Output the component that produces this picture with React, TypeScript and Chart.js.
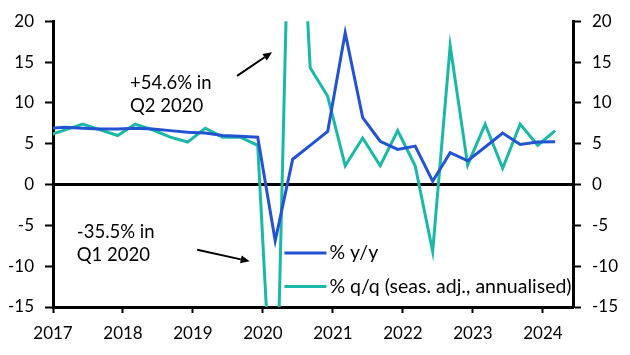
import React, { useEffect, useRef } from "react";
import { Chart, registerables } from "chart.js";

Chart.register(...registerables);

// ---- data ----
const quarters = [
  "2016Q4",
  "2017Q1", "2017Q2", "2017Q3", "2017Q4",
  "2018Q1", "2018Q2", "2018Q3", "2018Q4",
  "2019Q1", "2019Q2", "2019Q3", "2019Q4",
  "2020Q1", "2020Q2", "2020Q3", "2020Q4",
  "2021Q1", "2021Q2", "2021Q3", "2021Q4",
  "2022Q1", "2022Q2", "2022Q3", "2022Q4",
  "2023Q1", "2023Q2", "2023Q3", "2023Q4",
  "2024Q1",
];
const yoy = [
  6.9,
  7.0, 6.9, 6.8, 6.8,
  6.9, 6.8, 6.6, 6.4,
  6.3, 6.0, 5.9, 5.8,
  -6.9, 3.1, 4.8, 6.5,
  18.6, 8.2, 5.3, 4.3,
  4.7, 0.4, 3.9, 2.9,
  4.6, 6.3, 4.9, 5.2,
  5.25,
];
const qoq = [
  6.0,
  6.7, 7.4, 6.7, 6.0,
  7.4, 6.7, 5.8, 5.2,
  6.9, 5.8, 5.8, 4.8,
  -35.5, 54.6, 14.3, 10.8,
  2.3, 5.7, 2.3, 6.6,
  2.3, -8.2, 17.0, 2.4,
  7.4, 2.0, 7.4, 4.8,
  6.6,
];
const yTicks = [-15, -10, -5, 0, 5, 10, 15, 20];
const xTickYears = [2017, 2018, 2019, 2020, 2021, 2022, 2023, 2024];
const seriesNames = ["% y/y", "% q/q (seas. adj., annualised)"];
const noteUp = ["+54.6% in", "Q2 2020"];
const noteDown = ["-35.5% in", "Q1 2020"];

// ---- styles ----
const BLUE = "#2453D2";
const TEAL = "#19B8A7";
const FONT = "Lato";

const quarterToX = (q: string) => {
  const year = parseInt(q.slice(0, 4), 10);
  const qn = parseInt(q.slice(5), 10);
  return year + (qn - 1) / 4 + 0.175;
};

const drawArrow = (ctx: CanvasRenderingContext2D, x1: number, y1: number, x2: number, y2: number) => {
  const ang = Math.atan2(y2 - y1, x2 - x1);
  const head = 9;
  const hw = 4;
  const bx = x2 - head * Math.cos(ang);
  const by = y2 - head * Math.sin(ang);
  ctx.beginPath();
  ctx.moveTo(x1, y1);
  ctx.lineTo(bx, by);
  ctx.lineWidth = 2;
  ctx.strokeStyle = "#000";
  ctx.stroke();
  ctx.beginPath();
  ctx.moveTo(x2, y2);
  ctx.lineTo(bx + hw * Math.sin(ang), by - hw * Math.cos(ang));
  ctx.lineTo(bx - hw * Math.sin(ang), by + hw * Math.cos(ang));
  ctx.closePath();
  ctx.fillStyle = "#000";
  ctx.fill();
};

const overlayPlugin = {
  id: "overlay",
  afterDatasetsDraw(chart: any) {
    const { ctx, scales, chartArea } = chart;
    const xs = scales.x;
    const ys = scales.y;
    const px = (v: number) => xs.getPixelForValue(v);
    const py = (v: number) => ys.getPixelForValue(v);
    ctx.save();
    // annotations
    ctx.fillStyle = "#000";
    ctx.font = `18.5px ${FONT}`;
    ctx.textAlign = "left";
    ctx.textBaseline = "middle";
    ctx.fillText(noteUp[0], px(2018.1), py(12.47));
    ctx.fillText(noteUp[1], px(2018.1), py(9.59));
    ctx.fillText(noteDown[0], px(2017.34), py(-5.87));
    ctx.fillText(noteDown[1], px(2017.34), py(-8.67));
    drawArrow(ctx, px(2019.63), py(13.3), px(2020.13), py(16.2));
    drawArrow(ctx, px(2019.06), py(-8.0), px(2019.81), py(-9.4));
    // legend
    const lx0 = chartArea.left + (chartArea.right - chartArea.left) * 0.445;
    const lx1 = lx0 + 42;
    const rows = [
      { y: py(-8.4), color: BLUE, label: seriesNames[0] },
      { y: py(-12.5), color: TEAL, label: seriesNames[1] },
    ];
    ctx.font = `19.5px ${FONT}`;
    rows.forEach((r) => {
      ctx.beginPath();
      ctx.moveTo(lx0, r.y);
      ctx.lineTo(lx1, r.y);
      ctx.lineWidth = 3;
      ctx.strokeStyle = r.color;
      ctx.stroke();
      ctx.fillStyle = "#000";
      ctx.fillText(r.label, lx1 + 3, r.y);
    });
    ctx.restore();
  },
};

export default function App() {
  const ref = useRef<HTMLCanvasElement>(null);
  useEffect(() => {
    document.body.style.margin = "0";
    const canvas = ref.current!;
    const tickFont = { family: FONT, size: 17 };
    const chart = new Chart(canvas, {
      type: "line",
      data: {
        datasets: [
          {
            label: seriesNames[0],
            data: quarters.map((q, i) => ({ x: quarterToX(q), y: yoy[i] })),
            borderColor: BLUE,
            backgroundColor: BLUE,
            borderWidth: 3,
            pointRadius: 0,
            tension: 0,
            yAxisID: "y",
          },
          {
            label: seriesNames[1],
            data: quarters.map((q, i) => ({ x: quarterToX(q), y: qoq[i] })),
            borderColor: TEAL,
            backgroundColor: TEAL,
            borderWidth: 3,
            pointRadius: 0,
            tension: 0,
            yAxisID: "y",
          },
        ],
      },
      options: {
        responsive: false,
        animation: false,
        layout: { padding: { top: 15, left: 0, right: 0, bottom: 0 } },
        plugins: { legend: { display: false }, tooltip: { enabled: false } },
        scales: {
          x: {
            type: "linear",
            position: "bottom",
            min: 2017,
            max: 2024.43,
            afterBuildTicks: (s: any) => {
              s.ticks = xTickYears.map((v) => ({ value: v }));
            },
            afterFit: (s: any) => {
              s.height = 48;
            },
            ticks: {
              callback: (v: any) => String(v),
              font: tickFont,
              color: "#000",
              padding: 10,
              maxRotation: 0,
              autoSkip: false,
            },
            grid: {
              drawOnChartArea: false,
              drawTicks: true,
              tickLength: 6,
              tickWidth: 2,
              tickColor: "#000",
            },
            border: { display: true, color: "#000", width: 3 },
          },
          y: {
            type: "linear",
            position: "left",
            min: -15,
            max: 20,
            afterBuildTicks: (s: any) => {
              s.ticks = yTicks.map((v) => ({ value: v }));
            },
            afterFit: (s: any) => {
              s.width = 53;
            },
            ticks: { font: tickFont, color: "#000", padding: 11 },
            grid: {
              drawOnChartArea: true,
              color: (c: any) => (c.tick && c.tick.value === 0 ? "#000" : "rgba(0,0,0,0)"),
              lineWidth: (c: any) => (c.tick && c.tick.value === 0 ? 3 : 1),
              drawTicks: true,
              tickLength: 8,
              tickWidth: 2,
              tickColor: "#000",
            },
            border: { display: true, color: "#000", width: 3 },
          },
          y2: {
            type: "linear",
            position: "right",
            min: -15,
            max: 20,
            afterBuildTicks: (s: any) => {
              s.ticks = yTicks.map((v) => ({ value: v }));
            },
            afterFit: (s: any) => {
              s.width = 57;
            },
            ticks: { font: tickFont, color: "#000", padding: 11 },
            grid: {
              drawOnChartArea: false,
              drawTicks: true,
              tickLength: 8,
              tickWidth: 2,
              tickColor: "#000",
            },
            border: { display: true, color: "#000", width: 3 },
          },
        },
      },
      plugins: [overlayPlugin],
    } as any);
    return () => chart.destroy();
  }, []);
  return (
    <div style={{ position: "fixed", left: 0, top: 0, width: 630, height: 355, background: "#fff" }}>
      <canvas ref={ref} width={630} height={355} style={{ width: 630, height: 355, display: "block" }} />
    </div>
  );
}
